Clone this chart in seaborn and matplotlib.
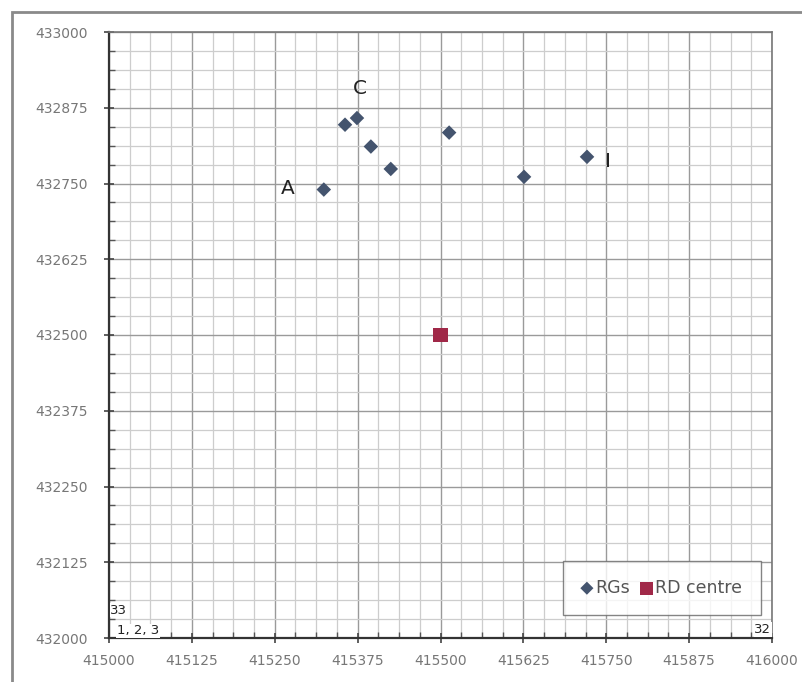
import matplotlib
matplotlib.use("Agg")
import matplotlib.pyplot as plt
import seaborn as sns
import pandas as pd
import numpy as np
from matplotlib.patches import Rectangle
from matplotlib.ticker import MultipleLocator

# ---- data ----
rg_x = [415324, 415356, 415374, 415395, 415425, 415513, 415626, 415721]
rg_y = [432740, 432847, 432858, 432811, 432774, 432834, 432761, 432794]
centre_x = [415500]
centre_y = [432500]
x_ticks = [415000, 415125, 415250, 415375, 415500, 415625, 415750, 415875, 416000]
y_ticks = [432000, 432125, 432250, 432375, 432500, 432625, 432750, 432875, 433000]
point_labels = {"A": 0, "C": 2, "I": 7}

sns.set_style("white")
plt.rcParams['font.family'] = ['DejaVu Sans']

fig = plt.figure(figsize=(8.02, 6.82), dpi=100)
ax = fig.add_axes([109/802, 1-638/682, (772-109)/802, (638-32)/682])

df_rg = pd.DataFrame({"x": rg_x, "y": rg_y})
df_c = pd.DataFrame({"x": centre_x, "y": centre_y})

sns.scatterplot(data=df_rg, x="x", y="y", marker="D", s=55, color="#44546E",
                edgecolor="none", label="RGs", ax=ax, zorder=5)
sns.scatterplot(data=df_c, x="x", y="y", marker="s", s=110, color="#A02848",
                edgecolor="none", label="RD centre", ax=ax, zorder=5)

ax.set_xlim(415000, 416000)
ax.set_ylim(432000, 433000)
ax.set_xticks(x_ticks)
ax.set_yticks(y_ticks)
ax.set_xticklabels([str(v) for v in x_ticks])
ax.set_yticklabels([str(v) for v in y_ticks])
ax.xaxis.set_minor_locator(MultipleLocator(31.25))
ax.yaxis.set_minor_locator(MultipleLocator(31.25))
ax.set_xlabel("")
ax.set_ylabel("")

ax.grid(which="major", color="#9A9A9A", lw=1.0, zorder=0)
ax.grid(which="minor", color="#CDCDCD", lw=0.9, zorder=0)
ax.set_axisbelow(True)

ax.tick_params(axis="both", which="major", direction="inout", length=7, width=1.2,
               color="#444444", labelsize=10, labelcolor="#777777")
ax.tick_params(axis="both", which="minor", direction="in", length=4, width=1.0,
               color="#555555")
ax.tick_params(axis="x", which="major", pad=8)
ax.tick_params(axis="y", which="major", pad=12)
ax.tick_params(axis="both", which="both", bottom=True, left=True, top=False, right=False)

for side in ["top", "right"]:
    ax.spines[side].set_color("#777777")
    ax.spines[side].set_linewidth(1.2)
for side in ["left", "bottom"]:
    ax.spines[side].set_color("#333333")
    ax.spines[side].set_linewidth(1.6)

# point labels
offsets = {"A": (-26, 1), "C": (2, 21), "I": (15, -3)}
for lab, idx in point_labels.items():
    ax.annotate(lab, (rg_x[idx], rg_y[idx]), xytext=offsets[lab],
                textcoords="offset points", fontsize=14.5, ha="center", va="center",
                color="#222222", zorder=6)

# corner labels
bbox = dict(facecolor="white", edgecolor="none", pad=0.5)
ax.text(415002, 432046, "33", fontsize=9.5, ha="left", va="center", color="#222222", bbox=bbox)
ax.text(415012, 432012, "1, 2, 3", fontsize=9.5, ha="left", va="center", color="#222222", bbox=bbox)
ax.text(415999, 432014, "32", fontsize=9.5, ha="right", va="center", color="#222222", bbox=bbox)

leg = ax.legend(loc="lower right", bbox_to_anchor=(0.983, 0.038), ncol=2,
                fontsize=12.5, frameon=True, fancybox=False, borderpad=1.05,
                borderaxespad=0, handletextpad=0.15, columnspacing=0.6,
                handlelength=0.7, markerscale=0.9)
leg.get_frame().set_edgecolor("#666666")
leg.get_frame().set_linewidth(1.0)
for t in leg.get_texts():
    t.set_color("#555555")

# outer chart border
fig.patches.append(Rectangle((12/802, -0.02), 1.0, (682-12)/682 + 0.02,
                             transform=fig.transFigure, fill=False,
                             edgecolor="#8A8A8A", lw=2.0, clip_on=False))

fig.savefig("out.png", dpi=100, facecolor="white")
